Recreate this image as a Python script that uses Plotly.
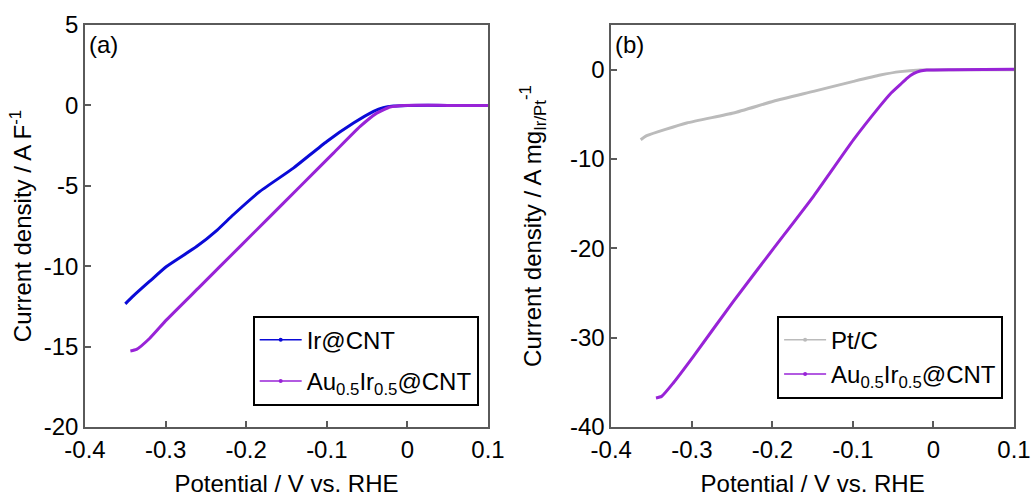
import plotly.graph_objects as go

# Panel (a): current density normalised by capacitance (A F^-1)
ir_x = [-0.350, -0.340, -0.320, -0.2989, -0.2616, -0.236, -0.216, -0.183, -0.1415, -0.100, -0.0669, -0.042, -0.030, -0.0172, 0.0, 0.05, 0.1]
ir_y = [-12.34, -11.85, -10.95, -10.02, -8.78, -7.75, -6.80, -5.35, -3.90, -2.24, -1.10, -0.37, -0.14, -0.04, 0.0, 0.0, 0.0]

auir_a_x = [-0.3437, -0.336, -0.3196, -0.2989, -0.2575, -0.2078, -0.1746, -0.1332, -0.0918, -0.0586, -0.038, -0.0215, -0.004, 0.05, 0.1]
auir_a_y = [-15.27, -15.17, -14.48, -13.34, -11.27, -8.78, -7.12, -5.04, -2.97, -1.31, -0.48, -0.10, 0.0, 0.0, 0.0]

# Panel (b): mass activity (A mg^-1)
ptc_x = [-0.3635, -0.356, -0.3064, -0.2484, -0.1987, -0.149, -0.0992, -0.066, -0.0413, -0.0164, 0.05, 0.1]
ptc_y = [-7.84, -7.39, -5.97, -4.85, -3.54, -2.43, -1.31, -0.60, -0.22, -0.04, 0.0, 0.0]

auir_b_x = [-0.3445, -0.3375, -0.323, -0.298, -0.2484, -0.1987, -0.149, -0.0992, -0.066, -0.0537, -0.0413, -0.033, -0.0248, -0.0165, -0.0083, 0.025, 0.1]
auir_b_y = [-36.75, -36.57, -35.07, -32.09, -25.93, -20.04, -14.18, -7.84, -4.03, -2.72, -1.68, -0.97, -0.45, -0.15, -0.04, 0.0, 0.04]

x_ticks = [-0.4, -0.3, -0.2, -0.1, 0, 0.1]
x_ticklabels = ["-0.4", "-0.3", "-0.2", "-0.1", "0", "0.1"]
ya_ticks = [5, 0, -5, -10, -15, -20]
ya_ticklabels = ["5", "0", "-5", "-10", "-15", "-20"]
yb_ticks = [0, -10, -20, -30, -40]
yb_ticklabels = ["0", "-10", "-20", "-30", "-40"]

BLUE = "rgb(10,10,215)"
PURPLE = "rgb(152,35,215)"
GRAY = "rgb(187,187,187)"
AXC = "rgb(90,90,90)"
FONT = "Liberation Sans, Arial, sans-serif"

fig = go.Figure()

# curves
def curve(x, y, color, xa, ya):
    fig.add_trace(go.Scatter(x=x, y=y, mode="lines",
                             line=dict(color=color, width=3, shape="spline", smoothing=0.5),
                             showlegend=False, xaxis=xa, yaxis=ya))

curve(ir_x, ir_y, BLUE, "x", "y")
curve(auir_a_x, auir_a_y, PURPLE, "x", "y")
curve(ptc_x, ptc_y, GRAY, "x2", "y2")
curve(auir_b_x, auir_b_y, PURPLE, "x2", "y2")

# legend entries (thin line with dot)
def leg(name, color, legend, group, xa, ya):
    fig.add_trace(go.Scatter(x=[None], y=[None], mode="lines+markers", name=name,
                             line=dict(color=color, width=1.5), marker=dict(color=color, size=4),
                             legend=legend, legendgroup=group, xaxis=xa, yaxis=ya))

leg("Ir@CNT", BLUE, "legend", "a1", "x", "y")
leg("Au<sub>0.5</sub>Ir<sub>0.5</sub>@CNT", PURPLE, "legend", "a2", "x", "y")
leg("Pt/C", GRAY, "legend2", "b1", "x2", "y2")
leg("Au<sub>0.5</sub>Ir<sub>0.5</sub>@CNT", PURPLE, "legend2", "b1", "x2", "y2")

axis_common = dict(showline=True, linecolor=AXC, linewidth=1.5, mirror=True,
                   ticks="inside", ticklen=6, tickcolor=AXC, tickwidth=1.5,
                   showgrid=False, zeroline=False, automargin=False,
                   tickfont=dict(family=FONT, size=24, color="black"))

fig.update_layout(
    width=1032, height=497,
    margin=dict(l=85, r=18, t=25, b=70),
    paper_bgcolor="white", plot_bgcolor="white",
    font=dict(family=FONT, size=24, color="black"),
    xaxis=dict(domain=[0, 0.4338], range=[-0.4, 0.1], tickvals=x_ticks, ticktext=x_ticklabels,
               title=dict(text="Potential / V vs. RHE", font=dict(size=24), standoff=22),
               anchor="y", **axis_common),
    yaxis=dict(domain=[0, 1], range=[-20, 5], tickvals=ya_ticks, ticktext=ya_ticklabels,
               title=dict(text="Current density / A F<sup>-1</sup>", font=dict(size=24), standoff=5),
               anchor="x", **axis_common),
    xaxis2=dict(domain=[0.5665, 1], range=[-0.4, 0.1], tickvals=x_ticks, ticktext=x_ticklabels,
                title=dict(text="Potential / V vs. RHE", font=dict(size=24), standoff=22),
                anchor="y2", **axis_common),
    yaxis2=dict(domain=[0, 1], range=[-40, 5], tickvals=yb_ticks, ticktext=yb_ticklabels,
                title=dict(text="Current density / A mg<sub>Ir/Pt</sub><sup>-1</sup>", font=dict(size=24), standoff=22),
                anchor="x2", **axis_common),
    legend=dict(x=0.1805, y=0.2769, xanchor="left", yanchor="top",
                bordercolor="black", borderwidth=2, bgcolor="white",
                font=dict(family=FONT, size=24), traceorder="grouped", tracegroupgap=7, itemwidth=42),
    legend2=dict(x=0.745, y=0.2769, xanchor="left", yanchor="top",
                 bordercolor="black", borderwidth=2, bgcolor="white",
                 font=dict(family=FONT, size=24), tracegroupgap=0, itemwidth=42),
    annotations=[
        dict(text="(a)", xref="x domain", yref="y domain", x=0.005, y=0.99,
             xanchor="left", yanchor="top", showarrow=False, font=dict(size=24, color="black")),
        dict(text="(b)", xref="x2 domain", yref="y2 domain", x=0.005, y=0.99,
             xanchor="left", yanchor="top", showarrow=False, font=dict(size=24, color="black")),
    ],
)

fig.write_html("out.html")
